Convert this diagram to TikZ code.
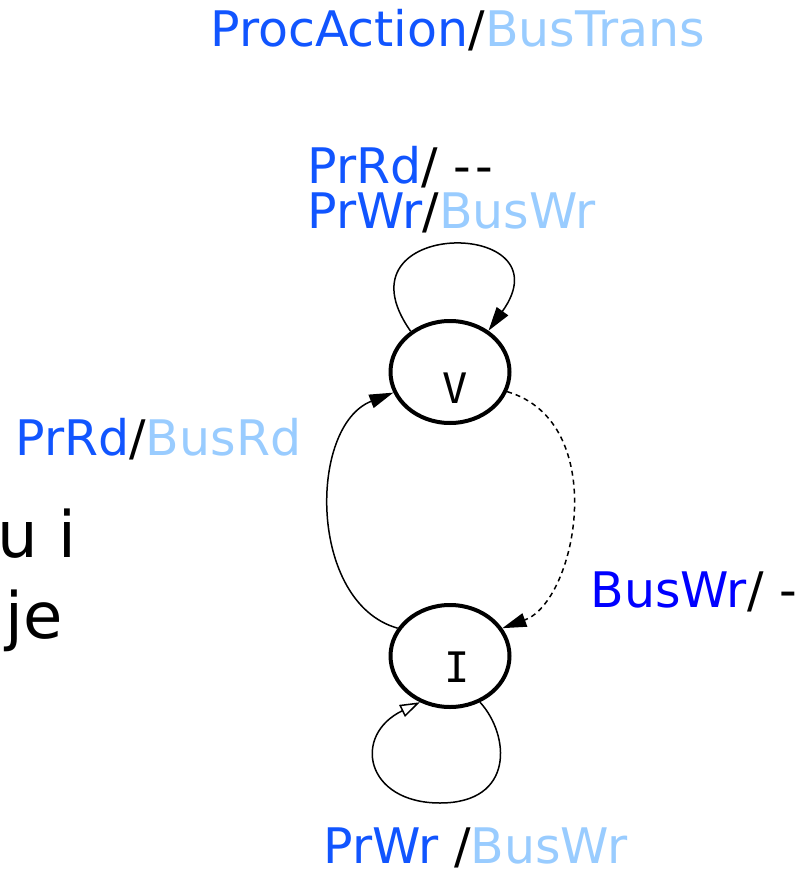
\documentclass[tikz,border=0pt]{standalone}
\usepackage{fontspec}
\setmainfont{DejaVu Sans}
\newfontfamily\statefont{DejaVu Sans Mono}
\usetikzlibrary{arrows.meta,shapes.geometric,scopes}
\definecolor{proc}{RGB}{17,85,255}
\definecolor{bus}{RGB}{153,204,255}
\definecolor{snoop}{RGB}{0,0,255}

\begin{document}
\begin{tikzpicture}[x=0.5pt,y=0.5pt,
    st/.style={ellipse,draw=black,line width=2pt,minimum width=59.5pt,minimum height=51pt,inner sep=0pt},
    sn/.style={font=\statefont\fontsize{21}{25}\selectfont,inner sep=0pt},
    lbl/.style={anchor=base west,inner sep=0pt,font=\fontsize{24.5}{29}\selectfont},
    tr/.style={line width=0.75pt,-{Triangle[length=12pt,width=7pt]}}]
    \useasboundingbox (0,0) rectangle (811,-872);
    \clip (0,0) rectangle (811,-872);

    % states
    \node[st] (v) at (450,-372) {};
    \node[st] (i) at (450,-656) {};
    \node[sn] (vl) at ([shift={(5,-16)}]v.center) {V};
    \node[sn] (il) at ([shift={(7,-11)}]i.center) {I};

    % labels
    \node[lbl] (title) at (210,-47) {\textcolor{proc}{ProcAction}/\textcolor{bus}{BusTrans}};
    \node[lbl] (vrd) at (307,-183) {\textcolor{proc}{PrRd}/ -\kern2pt-};
    \node[lbl] (vwr) at (307,-228) {\textcolor{proc}{PrWr}/\textcolor{bus}{BusWr}};
    \node[lbl] (ird) at (15,-455) {\textcolor{proc}{PrRd}/\textcolor{bus}{BusRd}};
    \node[lbl] (bwr) at (590,-607) {\textcolor{snoop}{BusWr}/ -};
    \node[lbl] (iwr) at (323,-863) {\textcolor{proc}{PrWr} /\textcolor{bus}{BusWr}};
    \node[lbl,font=\fontsize{32}{40}\selectfont] (ui) at (-3,-557) {u i};
    \node[lbl,font=\fontsize{32}{40}\selectfont] (je) at (5,-638) {je};

    {[tr]
    \draw (v.134) .. controls (330,-217) and (570,-217) .. (v.47);
    \draw (i.152) .. controls (308,-603) and (308,-426) .. (v.200);
    \draw[dash pattern=on 2.5pt off 2pt] (v.341) .. controls (611,-422) and (577,-601) .. (i.28);
    }
    \draw[line width=0.75pt,-{Triangle[open,length=10pt,width=6.5pt]}] (i.303) .. controls (510,-735) and (515,-803) .. (440,-803)
        .. controls (365,-803) and (352,-735) .. (i.237);
\end{tikzpicture}
\end{document}
